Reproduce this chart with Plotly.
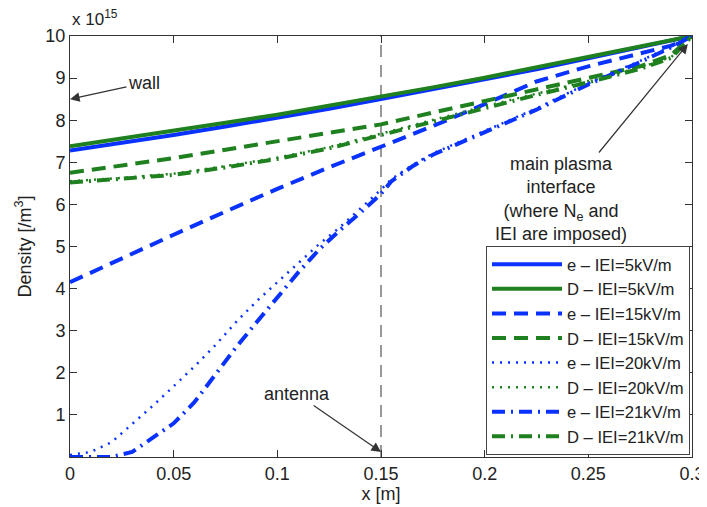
import plotly.graph_objects as go

# ---- data (density in units of 1e15 m^-3) ----
x_grid = [0, 0.025, 0.05, 0.075, 0.1, 0.125, 0.15, 0.175, 0.2, 0.225, 0.25, 0.275, 0.3]

e_5 = [7.28, 7.46, 7.65, 7.85, 8.05, 8.27, 8.50, 8.73, 8.97, 9.21, 9.47, 9.73, 10.0]
d_5 = [7.38, 7.56, 7.75, 7.94, 8.13, 8.34, 8.56, 8.78, 9.01, 9.25, 9.50, 9.75, 10.0]

x_15 = [0, 0.025, 0.05, 0.075, 0.1, 0.125, 0.15, 0.175, 0.2, 0.225, 0.25, 0.275, 0.29, 0.3]
e_15 = [4.15, 4.72, 5.28, 5.83, 6.37, 6.88, 7.36, 7.86, 8.38, 8.92, 9.28, 9.58, 9.77, 10.0]
d_15 = [6.75, 6.92, 7.10, 7.30, 7.50, 7.70, 7.90, 8.18, 8.45, 8.72, 9.00, 9.28, 9.55, 10.0]

x_20 = [0, 0.01, 0.02, 0.03, 0.04, 0.05, 0.06, 0.07, 0.08, 0.09, 0.1, 0.11, 0.12, 0.13,
        0.14, 0.15, 0.155, 0.165, 0.175, 0.2, 0.225, 0.25, 0.275, 0.29, 0.3]
e_20 = [0.05, 0.12, 0.35, 0.78, 1.22, 1.68, 2.15, 2.65, 3.20, 3.70, 4.15, 4.62, 5.05, 5.45,
        5.90, 6.35, 6.60, 6.93, 7.21, 7.75, 8.28, 8.88, 9.41, 9.75, 10.0]

x_21 = [0, 0.01, 0.02, 0.03, 0.04, 0.05, 0.06, 0.07, 0.08, 0.09, 0.1, 0.11, 0.12, 0.13,
        0.14, 0.15, 0.155, 0.165, 0.175, 0.2, 0.225, 0.25, 0.275, 0.29, 0.3]
e_21 = [0.0, 0.0, 0.0, 0.12, 0.45, 0.80, 1.30, 1.95, 2.60, 3.20, 3.80, 4.38, 4.92, 5.38,
        5.80, 6.25, 6.55, 6.90, 7.18, 7.72, 8.25, 8.85, 9.38, 9.73, 10.0]

x_d20 = [0, 0.025, 0.05, 0.075, 0.1, 0.125, 0.15, 0.175, 0.2, 0.225, 0.25, 0.275, 0.29, 0.3]
d_20 = [6.55, 6.63, 6.73, 6.91, 7.11, 7.36, 7.68, 8.00, 8.33, 8.63, 8.93, 9.25, 9.50, 10.0]
d_21 = [6.52, 6.60, 6.70, 6.88, 7.08, 7.33, 7.65, 7.97, 8.30, 8.60, 8.90, 9.22, 9.48, 10.0]

x_ticks = [0, 0.05, 0.1, 0.15, 0.2, 0.25, 0.3]
x_tick_labels = ["0", "0.05", "0.1", "0.15", "0.2", "0.25", "0.3"]
y_ticks = [1, 2, 3, 4, 5, 6, 7, 8, 9, 10]
antenna_x = 0.15

BLUE = "#0a32ff"
GREEN = "#1e801e"
FONT = "Liberation Sans, Arial, Helvetica, sans-serif"

series = [
    ("e \u2013 IEI=5kV/m", x_grid, e_5, BLUE, "solid", 4),
    ("D \u2013 IEI=5kV/m", x_grid, d_5, GREEN, "solid", 4),
    ("e \u2013 IEI=15kV/m", x_15, e_15, BLUE, "14px,8px", 4),
    ("D \u2013 IEI=15kV/m", x_15, d_15, GREEN, "14px,8px", 4),
    ("e \u2013 IEI=20kV/m", x_20, e_20, BLUE, "2px,6px", 2.5),
    ("D \u2013 IEI=20kV/m", x_d20, d_20, GREEN, "2px,6px", 2.5),
    ("e \u2013 IEI=21kV/m", x_21, e_21, BLUE, "13px,6px,2px,6px", 4),
    ("D \u2013 IEI=21kV/m", x_d20, d_21, GREEN, "13px,6px,2px,6px", 4),
]

fig = go.Figure()
for name, xs, ys, col, dash, w in series:
    fig.add_trace(go.Scatter(x=xs, y=ys, mode="lines", name=name,
                             line=dict(color=col, dash=dash, width=w)))

fig.add_shape(type="line", xref="x", yref="paper", x0=antenna_x, x1=antenna_x, y0=0, y1=1,
              line=dict(color="#777777", width=1.5, dash="12px,8px"), layer="below")

axis_common = dict(showline=True, linecolor="#333333", linewidth=1, mirror="ticks",
                   ticks="inside", ticklen=7, tickcolor="#333333", showgrid=False,
                   zeroline=False, automargin=False, ticklabeloverflow="allow",
                   tickfont=dict(size=18, color="#222222", family=FONT))

fig.update_xaxes(range=[0, 0.3], tickvals=x_ticks, ticktext=x_tick_labels,
                 title=dict(text="x [m]", font=dict(size=18, color="#222222"), standoff=2),
                 **axis_common)
fig.update_yaxes(range=[0, 10], tickvals=y_ticks,
                 title=dict(text="Density [/m<sup>3</sup>]", font=dict(size=18, color="#222222"),
                            standoff=9),
                 **axis_common)

arrow = dict(showarrow=True, arrowhead=2, arrowsize=1.6, arrowwidth=1.2, arrowcolor="#333333",
             font=dict(size=18, color="#222222", family=FONT))
fig.add_annotation(x=0, y=8.5, text="wall", ax=74, ay=-16, **arrow)
fig.add_annotation(x=antenna_x, y=0.12, text="antenna", ax=-84, ay=-58, **arrow)
fig.add_annotation(x=0.298, y=9.81,
                   text="main plasma<br>interface<br>(where N<sub>e</sub> and<br>IEI are imposed)",
                   ax=-127, ay=155, align="center", **arrow)
fig.add_annotation(xref="paper", yref="paper", x=0, y=1, xanchor="left", yanchor="bottom",
                   yshift=5, showarrow=False, text="x 10<sup>15</sup>",
                   font=dict(size=17, color="#222222", family=FONT))

fig.update_layout(
    width=699, height=499,
    margin=dict(l=62, r=15, t=28, b=50),
    paper_bgcolor="white", plot_bgcolor="white",
    font=dict(family=FONT, size=18, color="#222222"),
    showlegend=True,
    legend=dict(x=1 - 2 / 622, xanchor="right", y=2 / 421, yanchor="bottom",
                bordercolor="#444444", borderwidth=1, bgcolor="white",
                font=dict(size=16.6, color="#222222", family=FONT), itemwidth=70,
                tracegroupgap=0),
)

fig.write_html("out.html")
